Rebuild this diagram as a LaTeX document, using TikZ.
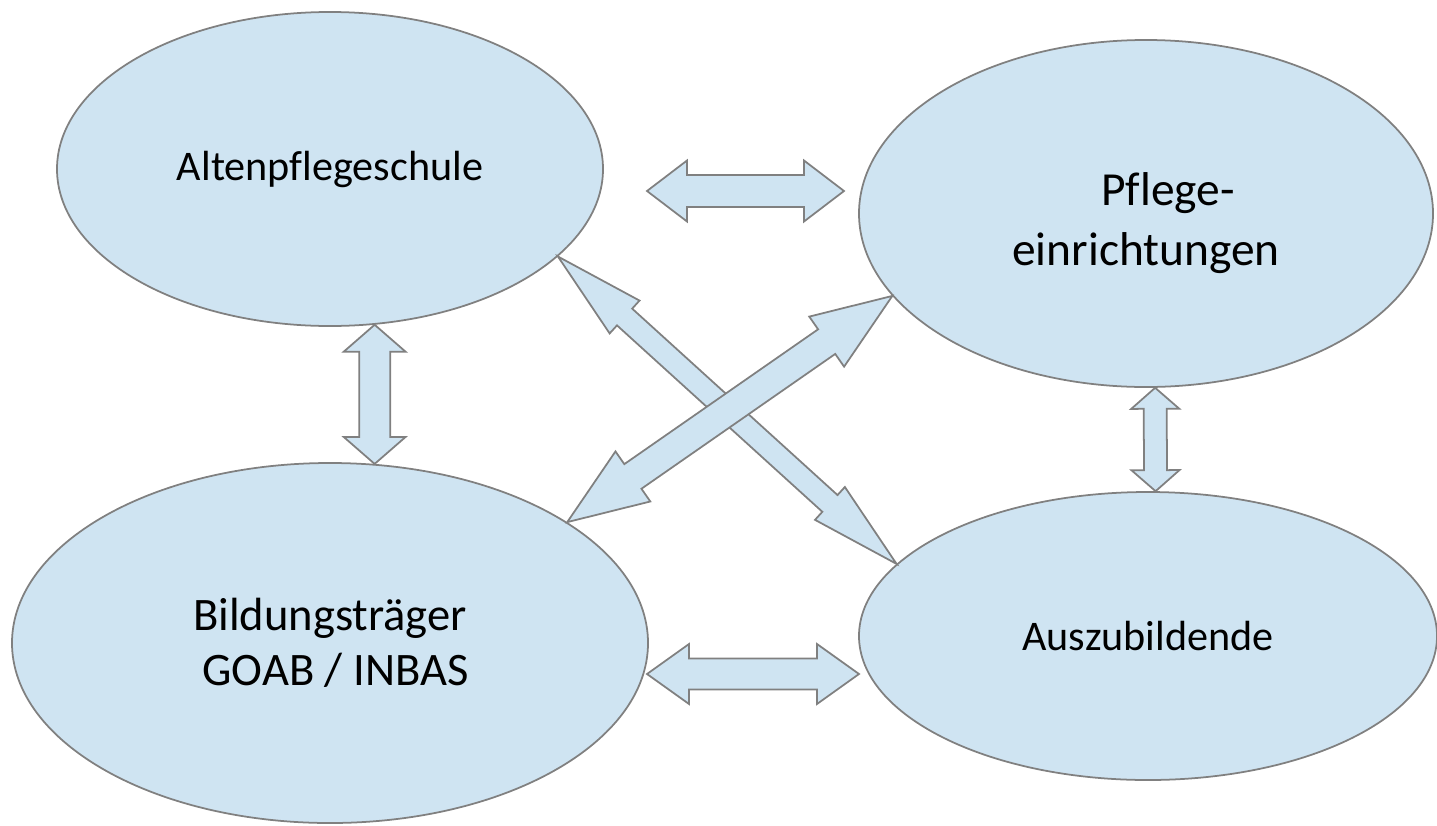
\documentclass[tikz,border=0pt]{standalone}
\usepackage{fontspec}
\setmainfont[Ligatures=NoCommon]{Carlito}
\usepackage{tikz}
\usetikzlibrary{shapes.geometric}
\usetikzlibrary{calc}
\definecolor{hellblau}{RGB}{207,228,242}
\definecolor{grau}{RGB}{128,128,128}
% #1 von, #2 nach, #3 halbe Schaftbreite, #4 halbe Spitzenbreite, #5 Spitzenlaenge
\newcommand{\doppelpfeil}[5]{%
	\path ($(#1)!#5!(#2)$) coordinate (h1) ($(#2)!#5!(#1)$) coordinate (h2);
	\draw[pfeil] (#1) -- ($(h1)!#4!90:(#2)$) -- ($(h1)!#3!90:(#2)$)
		-- ($(h2)!#3!-90:(#1)$) -- ($(h2)!#4!-90:(#1)$) -- (#2)
		-- ($(h2)!#4!90:(#1)$) -- ($(h2)!#3!90:(#1)$)
		-- ($(h1)!#3!-90:(#2)$) -- ($(h1)!#4!-90:(#2)$) -- cycle;
}

\begin{document}
\begin{tikzpicture}[x=0.2mm,y=-0.2mm]
	\tikzstyle{pfeil}=[draw=grau,fill=hellblau,line width=1pt]
	\tikzset{akteur/.style={draw=grau,fill=hellblau,ellipse,line width=1pt,inner sep=0pt,align=center,font=\fontsize{24}{29}\selectfont}}
	\useasboundingbox (0,0) rectangle (1437,825);
	\node[akteur,minimum width=109.2mm,minimum height=62.8mm] (schule) at (330,169) {Altenpflegeschule};
	\node[akteur,minimum width=114.8mm,minimum height=69.4mm,font=\fontsize{27}{34}\selectfont] (pflege) at (1146,213.5) {\rule{0pt}{1.1em}\hspace*{.93em}Pflege-\\einrichtungen};
	\node[akteur,minimum width=127.2mm,minimum height=72mm,font=\fontsize{26.5}{31}\selectfont] (bildung) at (330,643) {Bildungsträger\\\hspace*{.23em}GOAB / INBAS};
	\node[akteur,minimum width=115.6mm,minimum height=57.6mm] (azubi) at (1148,636) {Auszubildende};
	\coordinate (o1) at (647,191);
	\coordinate (o2) at (844,191);
	\coordinate (u1) at (647,674);
	\coordinate (u2) at (859,674);
	\doppelpfeil{o1}{o2}{3.2mm}{6.1mm}{8mm}
	\doppelpfeil{u1}{u2}{3.1mm}{6mm}{8.4mm}
	\doppelpfeil{schule.-74}{bildung.76}{3.1mm}{6.2mm}{5.4mm}
	\doppelpfeil{pflege.-87.4}{azubi.87.6}{2.3mm}{4.8mm}{4.2mm}
	\doppelpfeil{schule.-21.3}{azubi.164.8}{2.26mm}{4.44mm}{18mm}
	\doppelpfeil{bildung.27.6}{pflege.-162.8}{3mm}{6.1mm}{16mm}
\end{tikzpicture}
\end{document}
